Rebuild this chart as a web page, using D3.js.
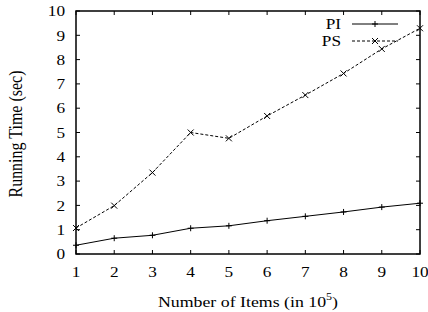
<!DOCTYPE html>
<html>
<head>
<meta charset="utf-8">
<script src="https://cdn.jsdelivr.net/npm/d3@7"></script>
<style>
  body { margin: 0; background: #fff; }
  text { font-family: "Liberation Serif", "DejaVu Serif", serif; fill: #000; }
</style>
</head>
<body>
<div class="chart"></div>
<script>
const items = [1, 2, 3, 4, 5, 6, 7, 8, 9, 10];
const piTimes = [0.36, 0.65, 0.77, 1.06, 1.16, 1.37, 1.55, 1.73, 1.93, 2.09];
const psTimes = [1.07, 1.99, 3.35, 5.0, 4.76, 5.68, 6.54, 7.43, 8.44, 9.29];
const yTicks = [0, 1, 2, 3, 4, 5, 6, 7, 8, 9, 10];

const margin = { top: 11, right: 8, bottom: 58, left: 76 };
const width = 428 - margin.left - margin.right,
  height = 312 - margin.top - margin.bottom;

// the original figure is a little wider than tall, text included
const stretch = 1.15;

const svg = d3
  .select(".chart")
  .append("svg")
  .attr("width", 428)
  .attr("height", 312);

const g = svg
  .append("g")
  .attr("transform", "translate(" + margin.left + "," + margin.top + ")");

const x = d3.scaleLinear().domain([1, 10]).range([0, width]);
const y = d3.scaleLinear().domain([0, 10]).range([height, 0]);

const tickLen = 4;

// ticks on all four sides, pointing in
const grid = g.append("g").attr("stroke", "#000").attr("stroke-width", 1);
items.forEach((d) => {
  grid.append("line").attr("x1", x(d)).attr("x2", x(d)).attr("y1", height).attr("y2", height - tickLen);
  grid.append("line").attr("x1", x(d)).attr("x2", x(d)).attr("y1", 0).attr("y2", tickLen);
});
yTicks.forEach((d) => {
  grid.append("line").attr("x1", 0).attr("x2", tickLen).attr("y1", y(d)).attr("y2", y(d));
  grid.append("line").attr("x1", width).attr("x2", width - tickLen).attr("y1", y(d)).attr("y2", y(d));
});

g.append("rect")
  .attr("width", width)
  .attr("height", height)
  .attr("fill", "none")
  .attr("stroke", "#000")
  .attr("stroke-width", 1.5);

const at = (px, py) => `translate(${px},${py}) scale(${stretch},1)`;

// tick labels
g.append("g")
  .selectAll("text")
  .data(items)
  .enter()
  .append("text")
  .attr("transform", (d) => at(x(d), height + 23))
  .attr("text-anchor", "middle")
  .style("font-size", "15px")
  .text((d) => d);

g.append("g")
  .selectAll("text")
  .data(yTicks)
  .enter()
  .append("text")
  .attr("transform", (d) => at(-11, y(d)))
  .attr("dy", "0.35em")
  .attr("text-anchor", "end")
  .style("font-size", "15px")
  .text((d) => d);

// axis titles
const xTitle = svg
  .append("text")
  .attr("transform", at(248, 307))
  .attr("text-anchor", "middle")
  .style("font-size", "15.5px");
xTitle.append("tspan").text("Number of Items (in 10");
xTitle.append("tspan").attr("dy", -7).style("font-size", "10.5px").text("5");
xTitle.append("tspan").attr("dy", 7).text(")");

svg
  .append("text")
  .attr("transform", `translate(22,134) scale(${stretch},1) rotate(-90)`)
  .attr("text-anchor", "middle")
  .style("font-size", "16px")
  .text("Running Time (sec)");

// series
const line = d3
  .line()
  .x((d, i) => x(items[i]))
  .y((d) => y(d));

function plus(sel, cx, cy) {
  sel.append("path")
    .attr("d", `M${cx - 3},${cy}H${cx + 3}M${cx},${cy - 3}V${cy + 3}`)
    .attr("stroke", "#000")
    .attr("stroke-width", 1);
}
function cross(sel, cx, cy) {
  sel.append("path")
    .attr("d", `M${cx - 3},${cy - 3}L${cx + 3},${cy + 3}M${cx - 3},${cy + 3}L${cx + 3},${cy - 3}`)
    .attr("stroke", "#000")
    .attr("stroke-width", 1);
}

g.append("path")
  .datum(piTimes)
  .attr("d", line)
  .attr("fill", "none")
  .attr("stroke", "#000")
  .attr("stroke-width", 1);
const piMarks = g.append("g");
piTimes.forEach((d, i) => plus(piMarks, x(items[i]), y(d)));

g.append("path")
  .datum(psTimes)
  .attr("d", line)
  .attr("fill", "none")
  .attr("stroke", "#000")
  .attr("stroke-width", 1)
  .attr("stroke-dasharray", "3,2");
const psMarks = g.append("g");
psTimes.forEach((d, i) => cross(psMarks, x(items[i]), y(d)));

// legend
const legend = svg.append("g");
const legendRows = [
  { name: "PI", y: 24, dash: null, mark: plus },
  { name: "PS", y: 41, dash: "3,2", mark: cross },
];
legendRows.forEach((r) => {
  legend.append("text")
    .attr("transform", at(341, r.y))
    .attr("dy", "0.35em")
    .attr("text-anchor", "end")
    .style("font-size", "15px")
    .text(r.name);
  legend.append("line")
    .attr("x1", 352)
    .attr("x2", 398)
    .attr("y1", r.y)
    .attr("y2", r.y)
    .attr("stroke", "#000")
    .attr("stroke-width", 1)
    .attr("stroke-dasharray", r.dash);
  r.mark(legend, 375, r.y);
});
</script>
</body>
</html>
